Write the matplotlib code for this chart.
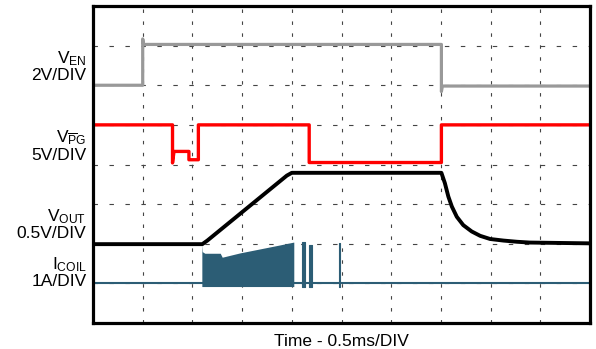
import matplotlib
matplotlib.use("Agg")
import matplotlib.pyplot as plt

plt.rcParams['font.family'] = ['Liberation Sans', 'DejaVu Sans']
plt.rcParams['mathtext.fontset'] = 'custom'
plt.rcParams['mathtext.rm'] = 'Liberation Sans'
plt.rcParams['mathtext.it'] = 'Liberation Sans:italic'
plt.rcParams['lines.scale_dashes'] = False

# V_EN (grey)
t_en = [0, 1.0, 1.0, 1.02, 7.01, 7.01, 7.03, 10]
v_en = [6.0, 6.0, 7.17, 7.03, 7.03, 5.84, 5.98, 5.98]

# V_PG (red)
t_pg = [0, 1.60, 1.60, 1.63, 1.93, 1.93, 2.12, 2.12, 4.35, 4.35, 7.01, 7.01, 10]
v_pg = [5.0, 5.0, 4.04, 4.33, 4.33, 4.12, 4.12, 5.0, 5.0, 4.05, 4.05, 5.0, 5.0]

# V_OUT (black)
t_out = [0, 2.2, 2.3, 3.9, 4.0, 7.01, 7.08, 7.15, 7.22, 7.32, 7.45, 7.62, 7.79,
         7.99, 8.26, 8.53, 8.79, 10]
v_out = [1.99, 1.99, 2.08, 3.72, 3.79, 3.79, 3.53, 3.19, 2.94, 2.68, 2.47, 2.31,
         2.20, 2.12, 2.08, 2.05, 2.03, 2.01]

# I_COIL (teal): baseline, switching burst envelope and late pulses
coil_base = 1.0
burst_t = [2.19, 2.20, 2.25, 2.56, 2.60, 2.96, 3.36, 3.76, 4.03, 4.04]
burst_top = [1.99, 1.80, 1.76, 1.76, 1.66, 1.77, 1.87, 1.97, 2.04, 2.04]
burst_bottom = 0.92
pulse_t0 = [4.21, 4.35, 4.95]
pulse_t1 = [4.27, 4.40, 4.97]
pulse_top = [2.04, 1.98, 2.03]

labels = [(r'$\mathrm{V_{EN}}$', '2V/DIV', 63, 80.5),
          (r'$\mathrm{V_{\overline{P}G}}$', '5V/DIV', 142, 159.5),
          (r'$\mathrm{V_{OUT}}$', '0.5V/DIV', 221, 238.5),
          (r'$\mathrm{I_{COIL}}$', '1A/DIV', 269, 286)]

W, H = 596, 349
fig = plt.figure(figsize=(W / 100, H / 100), dpi=100)
ax = fig.add_axes([93 / W, (H - 323) / H, 497 / W, 317 / H])
ax.set_xlim(0, 10)
ax.set_ylim(0, 8)
ax.set_xticks(range(1, 10))
ax.set_yticks(range(1, 8))
ax.tick_params(length=0, labelbottom=False, labelleft=False)
ax.xaxis.grid(True, color='#444444', lw=0.8, linestyle=(0, (2.5, 6.1)))
ax.yaxis.grid(True, color='#444444', lw=0.8, linestyle=(0, (3.2, 8.3)))
ax.set_axisbelow(True)
for s in ax.spines.values():
    s.set_linewidth(2.3)
    s.set_zorder(10)

coil_col = '#2c5d75'
ax.plot([0, 10], [coil_base, coil_base], color=coil_col, lw=1.5)
ax.fill_between(burst_t, burst_bottom, burst_top, color=coil_col, lw=0)
for a, b, top in zip(pulse_t0, pulse_t1, pulse_top):
    ax.fill_between([a, b], burst_bottom, top, color=coil_col, lw=0.8, edgecolor=coil_col)

ax.plot(t_en, v_en, color='#999999', lw=2.3)
ax.plot(t_pg, v_pg, color='#ff0000', lw=2.4)
ax.plot(t_out, v_out, color='black', lw=2.8)

for name, scale, y1, y2 in labels:
    fig.text(86.5 / W, 1 - y1 / H, name, ha='right', va='baseline', fontsize=12.5)
    fig.text(86.5 / W, 1 - y2 / H, scale, ha='right', va='baseline', fontsize=12.5)

fig.text(341.5 / W, 1 - 346.5 / H, 'Time - 0.5ms/DIV', ha='center', va='baseline',
         fontsize=12.5)

fig.savefig('out.png', dpi=100)
